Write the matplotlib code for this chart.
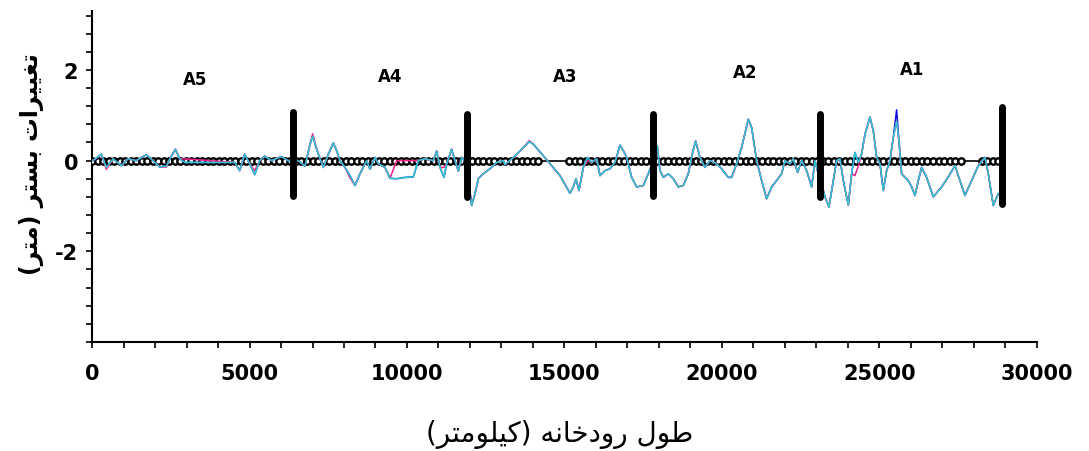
import numpy as np
import matplotlib
matplotlib.use("Agg")
import matplotlib.pyplot as plt
from matplotlib.ticker import MultipleLocator

# ---------------- data ----------------
# river stations (m) and bed change (m) of the main (cyan) series
x_cyan = [32, 295, 455, 667, 931, 1143, 1407, 1724, 1937, 2148, 2360, 2518, 2646, 2783, 2942,
          4529, 4688, 4847, 5005, 5164, 5323, 5482, 5693, 6011, 6222, 6540,
          6762, 6921, 7006, 7133, 7238, 7344, 7503, 7661, 7767, 7873, 8032, 8190, 8349, 8508,
          8719, 8825, 8984, 9090, 9302, 9460, 9672, 9937, 10201, 10360, 10571, 10836, 10942,
          11048, 11175, 11259, 11418, 11524, 11630, 11735, 11894, 12053, 12159, 12265, 12423,
          12635, 12847, 13058,
          13111, 13376, 13640, 13884, 14011, 14275, 14540, 14857, 15175, 15280, 15365, 15460,
          15598, 15725, 15863, 16021, 16127, 16286, 16444, 16603, 16762, 16868, 16974, 17132,
          17291, 17503, 17661, 17820, 17947, 18032, 18138, 18296, 18455, 18614, 18772, 18931,
          19069, 19164, 19302, 19460, 19619, 19778,
          19989, 20201, 20307, 20466, 20624, 20836, 20942, 21101, 21259, 21418, 21577, 21735,
          21894, 22000, 22159, 22265, 22402, 22529, 22688, 22847, 22952, 23058, 23164, 23270,
          23397, 23534, 23640, 23746, 23852, 24011, 24116, 24222, 24328, 24434, 24540, 24698,
          24804, 24910, 25016, 25122, 25228, 25333, 25439, 25545, 25619, 25704, 25810, 25915,
          26021, 26127, 26233, 26339, 26497, 26709, 26974, 27185, 27397, 27556, 27714, 27926,
          28138, 28349, 28455, 28614, 28772]
y_cyan = [0.00, 0.14, -0.15, 0.04, -0.11, 0.04, 0.00, 0.13, 0.00, -0.14, -0.12, 0.10, 0.25, 0.04, -0.04,
          -0.04, -0.22, 0.14, -0.07, -0.31, 0.00, 0.10, 0.00, 0.09, 0.00, 0.00,
          -0.12, 0.36, 0.54, 0.25, 0.04, -0.15, 0.14, 0.39, 0.22, 0.00, -0.15, -0.33, -0.55, -0.29,
          0.00, -0.19, 0.07, -0.07, -0.15, -0.39, -0.40, -0.37, -0.36, 0.00, 0.04, 0.00, 0.21,
          -0.15, -0.37, -0.07, 0.25, 0.00, -0.23, 0.07, -0.07, -0.99, -0.73, -0.40, -0.29,
          -0.18, -0.04, 0.00,
          -0.09, 0.07, 0.25, 0.42, 0.36, 0.15, -0.07, -0.33, -0.72, -0.58, -0.40, -0.66,
          -0.15, 0.07, -0.04, 0.04, -0.33, -0.22, -0.18, -0.04, 0.34, 0.22, 0.07, -0.37,
          -0.58, -0.55, -0.29, 0.00, 0.32, -0.22, -0.37, -0.29, -0.40, -0.58, -0.55, -0.29,
          0.18, 0.43, 0.07, -0.15, 0.00, -0.04,
          -0.18, -0.37, -0.37, -0.07, 0.29, 0.91, 0.73, 0.00, -0.44, -0.84, -0.58, -0.44,
          -0.29, 0.00, -0.07, 0.04, -0.26, 0.00, -0.22, -0.58, 0.00, -0.29, -0.51, -0.80,
          -1.02, -0.44, 0.00, 0.04, -0.44, -0.98, -0.29, 0.18, -0.04, 0.15, 0.58, 0.96,
          0.66, 0.07, -0.07, -0.66, -0.22, 0.00, 0.51, 0.87, 0.44, -0.29, -0.37, -0.44,
          -0.58, -0.77, -0.44, -0.15, -0.37, -0.80, -0.58, -0.36, -0.11, -0.44, -0.77, -0.44,
          -0.11, 0.07, -0.29, -0.99, -0.73]

# second (magenta) series: same stations, differs from cyan in places
y_magenta = list(y_cyan)
magenta_changes = {455: -0.19, 2148: -0.14, 2360: -0.14, 2783: 0.04, 2942: 0.04,
                   5164: -0.22, 5482: 0.10, 7006: 0.59, 8190: -0.38, 9672: 0.00, 9937: 0.00,
                   10201: 0.00, 11175: -0.15, 13884: 0.44, 15365: -0.40, 15725: 0.00,
                   24222: -0.33, 24328: -0.12}
for k, v in magenta_changes.items():
    y_magenta[x_cyan.index(k)] = v

# third (blue) series: only visible at its peak
y_blue = list(y_cyan)
y_blue[x_cyan.index(25545)] = 1.12

# reference (zero) line stations, with two gaps where no markers are drawn
x_zero_segments = [(0, 14200), (15150, 27700), (28250, 28780)]
x_zero_line = [0, 28880]
y_zero_line = [0, 0]

# reach boundaries (m)
x_bounds = [6380, 11900, 17800, 23100, 28890]
y_bounds_top = [1.07, 1.03, 1.03, 1.03, 1.18]
y_bounds_bot = [-0.77, -0.81, -0.77, -0.81, -0.96]

# reach labels
reach_names = ["A5", "A4", "A3", "A2", "A1"]
reach_x = [3270, 9460, 15020, 20730, 26030]
reach_y = [1.80, 1.87, 1.87, 1.96, 2.03]

xticks = [0, 5000, 10000, 15000, 20000, 25000, 30000]
yticks = [-2, 0, 2]

# ---------------- Persian text (pre-shaped, visual order) ----------------
xlabel_txt = ("(" + "\uFEAE\uFE98\uFEE3\uFEEE\uFEE0\uFEF4\uFEDB" + ")" + " "
              + "\uFEEA\uFEE7\uFE8E\uFEA7\uFEA9\uFEED\uFEAD" + " "
              + "\uFEDD\uFEEE\uFEC3")
ylabel_txt = ("(" + "\uFEAE\uFE98\uFEE3" + ")" + " "
              + "\uFEAE\uFE98\uFEB4\uFE91" + " "
              + "\uFE95\uFE8D\uFEAE\uFEF4\uFEF4\uFED0\uFE97")

# ---------------- plot ----------------
plt.rcParams['font.family'] = ['DejaVu Sans']
plt.rcParams['axes.unicode_minus'] = False
fig = plt.figure(figsize=(10.89, 4.52), dpi=100)
ax = fig.add_axes([0.0845, 0.2412, 0.8677, 0.7323])

# zero reference line with markers
ax.plot(x_zero_line, y_zero_line, color='black', lw=1.2, zorder=2)
for a, b in x_zero_segments:
    xs = np.arange(a, b + 1, 175)
    ax.plot(xs, np.zeros_like(xs), ls='none', marker='o', ms=4.6, mfc='white',
            mec='black', mew=1.7, zorder=3)

ax.plot(x_cyan, y_blue, color='#1010E0', lw=1.1, zorder=4)
ax.plot(x_cyan, y_magenta, color='#F0208A', lw=1.1, zorder=5)
ax.plot(x_cyan, y_cyan, color='#2CC8CC', lw=1.1, zorder=6)

for xb, yt, yb in zip(x_bounds, y_bounds_top, y_bounds_bot):
    ax.plot([xb, xb], [yb, yt], color='black', lw=5, solid_capstyle='round', zorder=7)

for name, xr, yr in zip(reach_names, reach_x, reach_y):
    ax.text(xr, yr, name, ha='center', va='center', fontsize=12, fontweight='bold')

ax.set_xlim(0, 30000)
ax.set_ylim(-4, 3.3)
ax.set_xticks(xticks)
ax.set_yticks(yticks)
ax.xaxis.set_minor_locator(MultipleLocator(1000))
ax.yaxis.set_minor_locator(MultipleLocator(0.4))
ax.tick_params(axis='both', which='both', direction='out', length=4, width=1.2,
               labelsize=15)
ax.tick_params(axis='x', pad=11)
ax.tick_params(axis='y', pad=6)
for lab in ax.get_xticklabels() + ax.get_yticklabels():
    lab.set_fontweight('bold')

ax.spines['top'].set_visible(False)
ax.spines['right'].set_visible(False)
ax.spines['left'].set_linewidth(1.5)
ax.spines['bottom'].set_linewidth(1.5)

fig.text(0.514, 0.038, xlabel_txt, ha='center', va='center', fontsize=20)
fig.text(0.029, 0.636, ylabel_txt, ha='center', va='center', fontsize=17,
         fontweight='bold', rotation=90)

fig.savefig("out.png", dpi=100)
